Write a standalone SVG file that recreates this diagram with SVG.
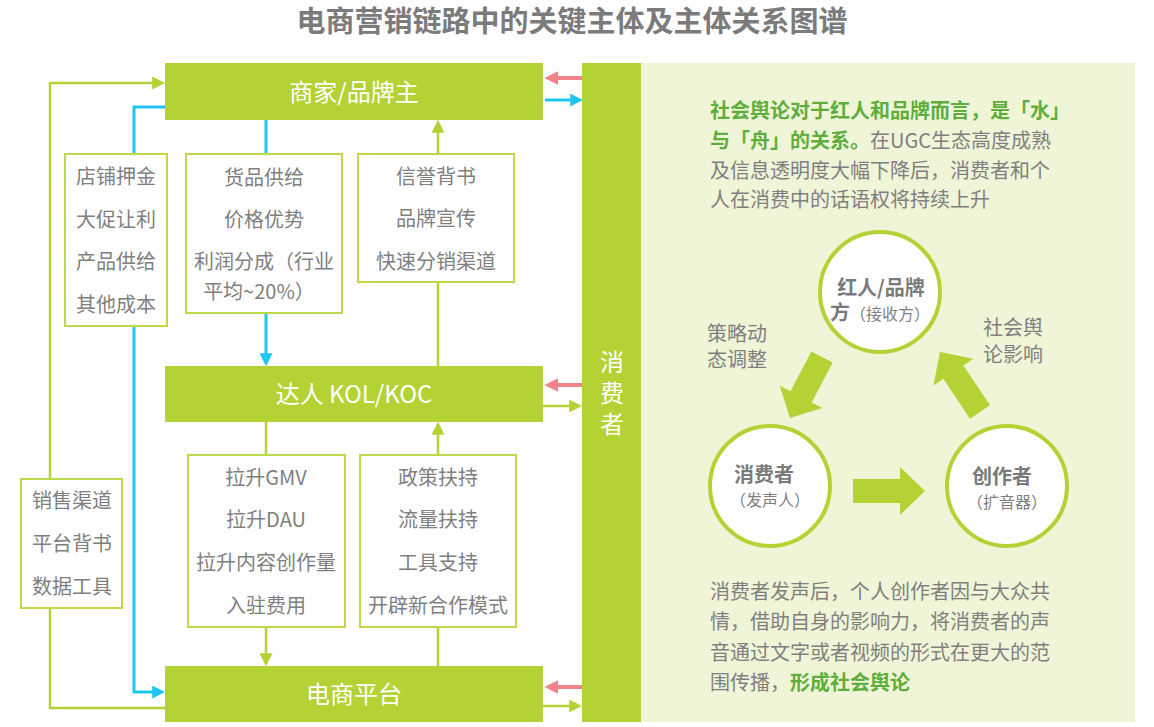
<svg xmlns="http://www.w3.org/2000/svg" width="1154" height="727" viewBox="0 0 1154 727">
<style>
text{font-family:"Noto Sans CJK SC","Noto Sans",sans-serif}
.title{font-size:29px;font-weight:bold;fill:#7b7b7b}
.main{fill:#b3d334}
.mt{font-size:24px;fill:#ffffff;text-anchor:middle}
.sb{fill:#ffffff;stroke:#bcd94a;stroke-width:2}
.st{font-size:20px;fill:#7f7f7f;text-anchor:middle}
.gl{fill:none;stroke:#b3d334;stroke-width:2.5}
.bl{fill:none;stroke:#1fc6f1;stroke-width:3}
.pk{fill:none;stroke:#f0848a;stroke-width:4}
.pt{font-size:20px;fill:#7f7f7f}
.gb{font-weight:bold;fill:#5eae3d}
.circ{fill:#ffffff;stroke:#b3d334;stroke-width:4}
.ct{font-size:20px;font-weight:bold;fill:#7a7a7a}
.cs{font-size:16px;font-weight:normal;fill:#7f7f7f}
.big{fill:#b3d334}
</style>
<defs>
<marker id="ag" viewBox="0 0 10 10" refX="6" refY="5" markerWidth="13" markerHeight="13" markerUnits="userSpaceOnUse" orient="auto"><path d="M0,0 L10,5 L0,10 Z" fill="#b3d334"/></marker>
<marker id="ab" viewBox="0 0 10 10" refX="6" refY="5" markerWidth="13" markerHeight="13" markerUnits="userSpaceOnUse" orient="auto"><path d="M0,0 L10,5 L0,10 Z" fill="#1fc6f1"/></marker>
<marker id="ap" viewBox="0 0 10 10" refX="6" refY="5" markerWidth="14" markerHeight="14" markerUnits="userSpaceOnUse" orient="auto"><path d="M0,0 L10,5 L0,10 Z" fill="#f0848a"/></marker>
</defs>
<rect width="1154" height="727" fill="#ffffff"/>
<text class="title" x="572" y="32" text-anchor="middle">电商营销链路中的关键主体及主体关系图谱</text>

<g id="right-panel">
<rect x="641" y="63" width="494" height="659" fill="#f0f5d7"/>
</g>

<g id="connectors">
<path class="gl" d="M165,708 H50 V608"/>
<path class="gl" d="M50,479 V83 H160" marker-end="url(#ag)"/>
<path class="bl" d="M165,107 H134 V154"/>
<path class="bl" d="M134,326 V692 H160" marker-end="url(#ab)"/>
<path class="bl" d="M266,120 V153"/>
<path class="bl" d="M266,313 V361" marker-end="url(#ab)"/>
<path class="gl" d="M266,422 V455"/>
<path class="gl" d="M266,627 V661" marker-end="url(#ag)"/>
<path class="gl" d="M438,666 V627"/>
<path class="gl" d="M438,455 V427" marker-end="url(#ag)"/>
<path class="gl" d="M438,366 V282"/>
<path class="gl" d="M438,153 V125" marker-end="url(#ag)"/>
<path class="pk" d="M582,78 H550" marker-end="url(#ap)"/>
<path class="bl" d="M545,100 H578" marker-end="url(#ab)"/>
<path class="pk" d="M582,385 H550" marker-end="url(#ap)"/>
<path class="gl" d="M543,406 H577" marker-end="url(#ag)"/>
<path class="pk" d="M582,687 H550" marker-end="url(#ap)"/>
<path class="gl" d="M543,706 H577" marker-end="url(#ag)"/>
</g>

<g id="merchant">
<rect class="main" x="165" y="63" width="378" height="57"/>
<text class="mt" x="354" y="101">商家/品牌主</text>
</g>
<g id="kol">
<rect class="main" x="165" y="366" width="378" height="56"/>
<text class="mt" x="354" y="403">达人 KOL/KOC</text>
</g>
<g id="platform">
<rect class="main" x="165" y="666" width="378" height="56"/>
<text class="mt" x="354" y="703">电商平台</text>
</g>
<g id="consumer-bar">
<rect class="main" x="582" y="63" width="59" height="659"/>
<text class="mt" x="612" y="371" font-size="25">消</text>
<text class="mt" x="612" y="402" font-size="25">费</text>
<text class="mt" x="612" y="433" font-size="25">者</text>
</g>

<g id="box-deposit">
<rect class="sb" x="65" y="154" width="102" height="172"/>
<text class="st" x="116" y="184">店铺押金</text>
<text class="st" x="116" y="227">大促让利</text>
<text class="st" x="116" y="269">产品供给</text>
<text class="st" x="116" y="312">其他成本</text>
</g>
<g id="box-goods">
<rect class="sb" x="186" y="154" width="156" height="159"/>
<text class="st" x="264" y="185">货品供给</text>
<text class="st" x="264" y="227">价格优势</text>
<text class="st" x="264" y="269">利润分成（行业</text>
<text class="st" x="259" y="299">平均~20%）</text>
</g>
<g id="box-credit">
<rect class="sb" x="358" y="154" width="156" height="128"/>
<text class="st" x="436" y="184">信誉背书</text>
<text class="st" x="436" y="226">品牌宣传</text>
<text class="st" x="436" y="269">快速分销渠道</text>
</g>
<g id="box-gmv">
<rect class="sb" x="188" y="455" width="157" height="172"/>
<text class="st" x="266" y="485">拉升GMV</text>
<text class="st" x="266" y="527">拉升DAU</text>
<text class="st" x="266" y="570">拉升内容创作量</text>
<text class="st" x="266" y="613">入驻费用</text>
</g>
<g id="box-policy">
<rect class="sb" x="360" y="455" width="156" height="172"/>
<text class="st" x="438" y="485">政策扶持</text>
<text class="st" x="438" y="527">流量扶持</text>
<text class="st" x="438" y="570">工具支持</text>
<text class="st" x="438" y="613">开辟新合作模式</text>
</g>
<g id="box-sales">
<rect class="sb" x="21" y="479" width="101" height="129"/>
<text class="st" x="72" y="508">销售渠道</text>
<text class="st" x="72" y="551">平台背书</text>
<text class="st" x="72" y="594">数据工具</text>
</g>

<g id="top-paragraph">
<text class="pt" x="710" y="118"><tspan class="gb">社会舆论对于红人和品牌而言，是「水」</tspan></text>
<text class="pt" x="710" y="148"><tspan class="gb">与「舟」的关系。</tspan>在UGC生态高度成熟</text>
<text class="pt" x="710" y="178">及信息透明度大幅下降后，消费者和个</text>
<text class="pt" x="710" y="207">人在消费中的话语权将持续上升</text>
</g>

<g id="circle-brand">
<circle class="circ" cx="880" cy="292" r="60"/>
<text class="ct" x="881" y="295" text-anchor="middle">红人/品牌</text>
<text class="ct" x="830" y="320">方<tspan class="cs">（接收方）</tspan></text>
</g>
<g id="circle-consumer">
<circle class="circ" cx="770" cy="486" r="60"/>
<text class="ct" x="764" y="482" text-anchor="middle">消费者</text>
<text class="cs" x="770" y="506" text-anchor="middle">（发声人）</text>
</g>
<g id="circle-creator">
<circle class="circ" cx="1007" cy="486" r="60"/>
<text class="ct" x="1002" y="484" text-anchor="middle">创作者</text>
<text class="cs" x="1007" y="508" text-anchor="middle">（扩音器）</text>
</g>

<g id="cycle-arrows">
<path class="big" transform="translate(822,357) rotate(117.7)" d="M0,-12 L45,-12 L45,-24 L69,0 L45,24 L45,12 L0,12 Z"/>
<path class="big" transform="translate(853,491)" d="M0,-12 L47,-12 L47,-24 L72,0 L47,24 L47,12 L0,12 Z"/>
<path class="big" transform="translate(980,412) rotate(-123.7)" d="M0,-12 L48,-12 L48,-24 L72,0 L48,24 L48,12 L0,12 Z"/>
</g>

<g id="cycle-labels">
<text class="pt" x="707" y="341">策略动</text>
<text class="pt" x="707" y="367">态调整</text>
<text class="pt" x="983" y="335">社会舆</text>
<text class="pt" x="983" y="362">论影响</text>
</g>

<g id="bottom-paragraph">
<text class="pt" x="710" y="599">消费者发声后，个人创作者因与大众共</text>
<text class="pt" x="710" y="629">情，借助自身的影响力，将消费者的声</text>
<text class="pt" x="710" y="660">音通过文字或者视频的形式在更大的范</text>
<text class="pt" x="710" y="690">围传播，<tspan class="gb">形成社会舆论</tspan></text>
</g>
</svg>
